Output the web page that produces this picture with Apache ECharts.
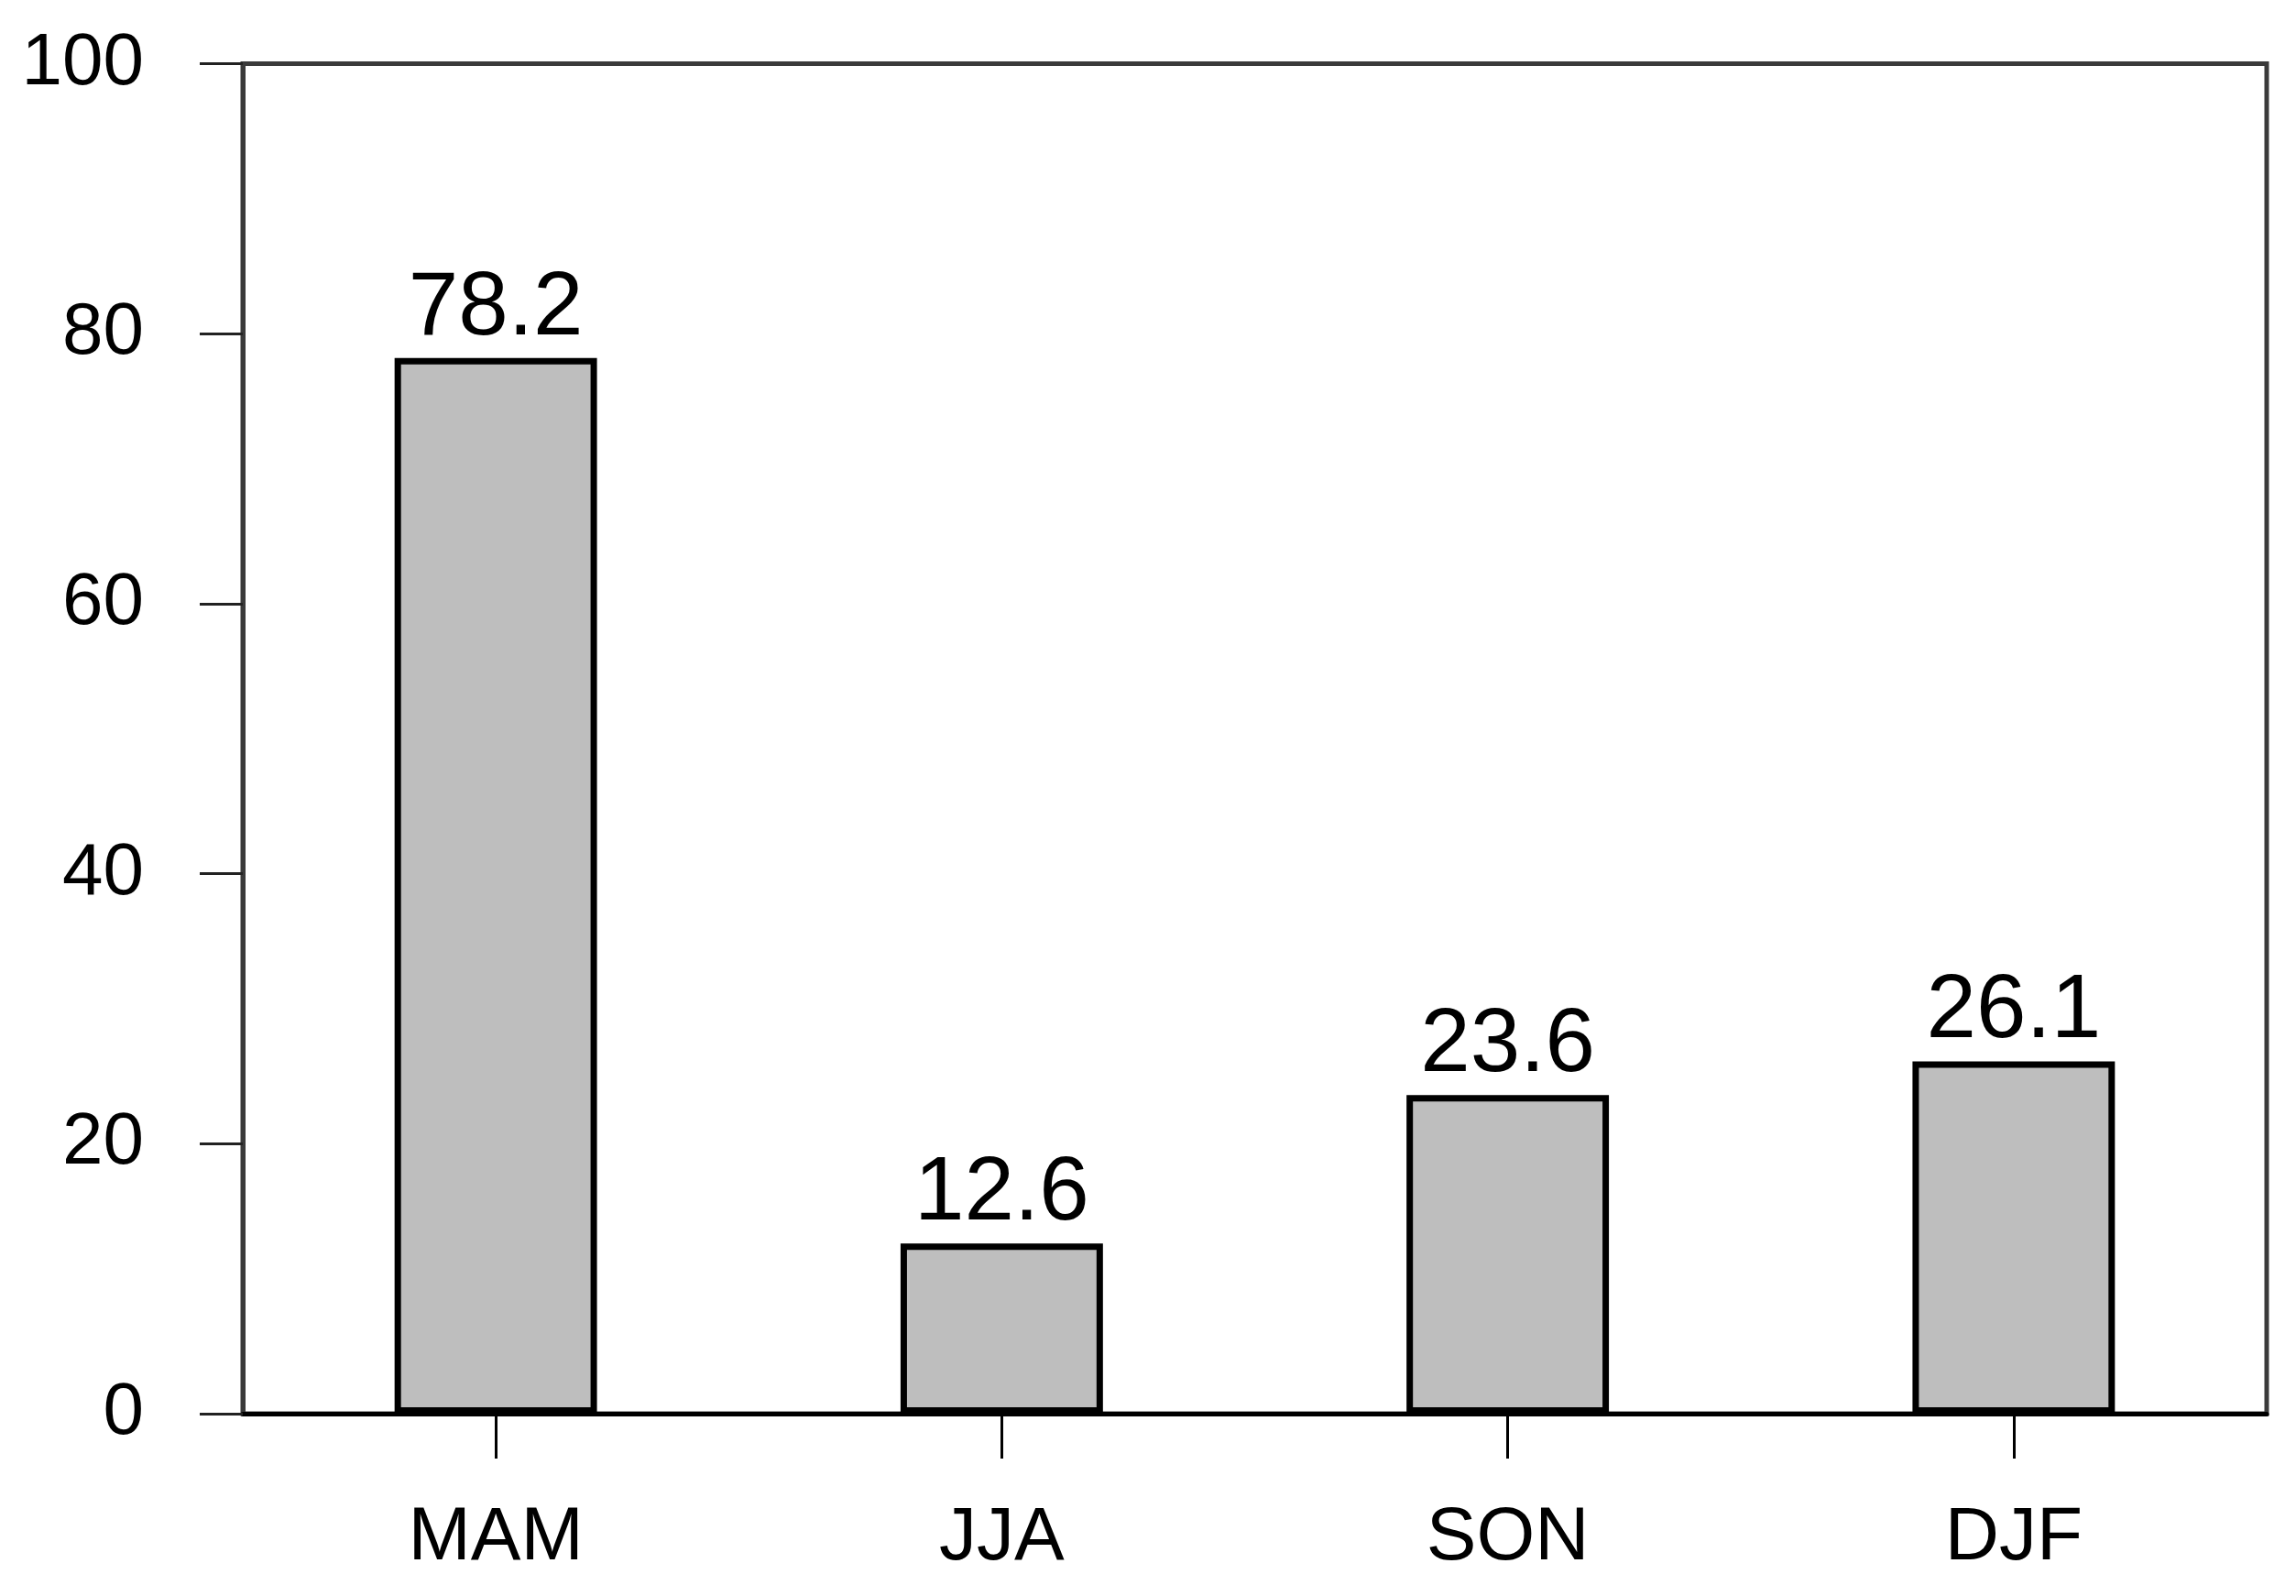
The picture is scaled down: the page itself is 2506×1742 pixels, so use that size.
<!DOCTYPE html>
<html>
<head>
<meta charset="utf-8">
<script src="https://cdn.jsdelivr.net/npm/echarts@6/dist/echarts.min.js"></script>
<style>
html,body{margin:0;padding:0;background:#fff;}
#chart{width:2506px;height:1742px;}
</style>
</head>
<body>
<div id="chart"></div>
<script>
const categories = ['MAM', 'JJA', 'SON', 'DJF'];
const values = [78.2, 12.6, 23.6, 26.1];
const yTicks = [0, 20, 40, 60, 80, 100];

const chart = echarts.init(document.getElementById('chart'), null, {renderer: 'canvas'});
const FONT = 'Liberation Sans, Arial, Helvetica, sans-serif';
chart.setOption({
  animation: false,
  backgroundColor: '#ffffff',
  grid: {
    left: 265, right: 32, top: 69.5, bottom: 199,
    show: true, borderColor: '#3a3a3a', borderWidth: 5, backgroundColor: 'transparent'
  },
  xAxis: {
    type: 'category',
    data: categories,
    boundaryGap: true,
    axisLine: {show: true, lineStyle: {color: '#000', width: 5}},
    axisTick: {show: true, alignWithLabel: true, interval: 0, length: 49, lineStyle: {color: '#000', width: 3}},
    axisLabel: {show: true, interval: 0, margin: 95, color: '#000', fontSize: 82, fontFamily: FONT},
    splitLine: {show: false}
  },
  yAxis: {
    type: 'value',
    min: yTicks[0], max: yTicks[yTicks.length - 1], interval: 20,
    axisLine: {show: true, lineStyle: {color: '#3a3a3a', width: 5}},
    axisTick: {show: true, length: 47, lineStyle: {color: '#222', width: 3}},
    axisLabel: {show: true, margin: 108, color: '#000', fontSize: 80, fontFamily: FONT},
    splitLine: {show: false}
  },
  series: [{
    type: 'bar',
    data: values,
    barWidth: '40%',
    itemStyle: {color: '#bebebe', borderColor: '#000', borderWidth: 7},
    label: {
      show: true, position: 'top', distance: 4,
      color: '#000', fontSize: 98, fontFamily: FONT,
      formatter: p => p.value.toFixed(1)
    }
  }]
});
</script>
</body>
</html>
